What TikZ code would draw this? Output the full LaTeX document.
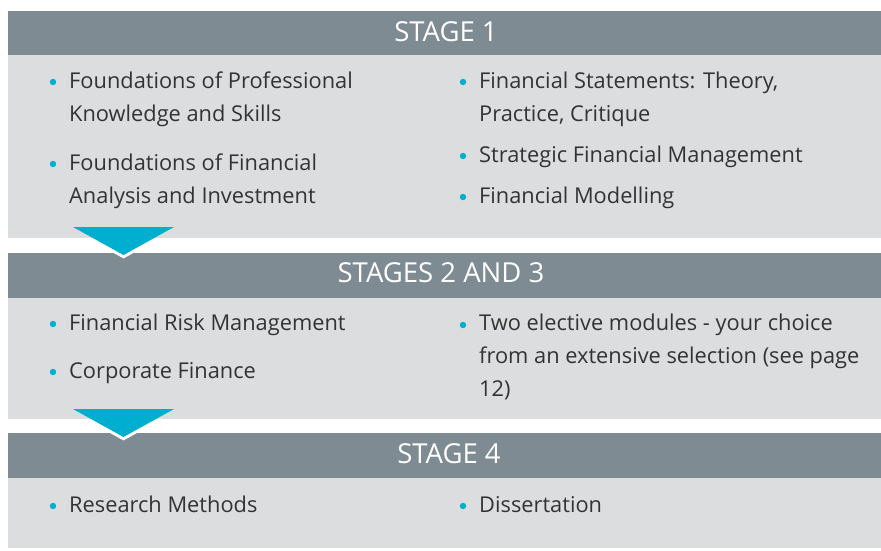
\documentclass[tikz,border=0pt]{standalone}
\usepackage{fontspec}
\setmainfont{Open Sans}
\definecolor{bandgrey}{HTML}{7F8B93}
\definecolor{panelgrey}{HTML}{DCDDDF}
\definecolor{cyanmark}{HTML}{00AECF}
\definecolor{textgrey}{HTML}{333333}
\begin{document}
\begin{tikzpicture}[x=1pt,y=-1pt,
	band/.style={fill=bandgrey},
	panel/.style={fill=panelgrey},
	title/.style={text=white,inner sep=0pt,font=\fontsize{27.5}{30}\selectfont},
	item/.style={anchor=base west,inner sep=0pt,align=left,text=textgrey,font=\fontsize{21.8}{33}\selectfont},
	dot/.style={fill=cyanmark},
	chevron/.style={fill=cyanmark}]
					%\draw[help lines] (0,0) grid[step=50] (881,550);
					\useasboundingbox (0,0) rectangle (881,550);
					
					%STAGE 1
					\fill[band] (8,11) rectangle (881,55);
					\fill[panel] (8,55) rectangle (881,238);
					\node[title] (stage1) at (446,32) {STAGE 1};
					%base = last line
					\node[item] (fpks) at (69,121) {Foundations of Professional\\Knowledge and Skills};
					\node[item] (ffai) at (69,203) {Foundations of Financial\\Analysis and Investment};
					\node[item] (fstp) at (479,121) {Financial Statements: Theory,\\Practice, Critique};
					\node[item] (sfm) at (479,162) {Strategic Financial Management};
					\node[item] (fmod) at (479,203) {Financial Modelling};
					\foreach \x/\y in {53/82,53/164,463/82,463/156,463/197}
						\fill[dot] (\x,\y) circle (3.2);
					
					%STAGES 2 AND 3
					\fill[band] (8,253) rectangle (881,298);
					\fill[panel] (8,298) rectangle (881,419);
					\node[title] (stage23) at (441,273) {STAGES 2 AND 3};
					\node[item] (frm) at (69,330) {Financial Risk Management};
					\node[item] (cfin) at (69,378) {Corporate Finance};
					\node[item] (elec) at (479,396) {Two elective modules - your choice\\from an extensive selection (see page\\12)};
					\foreach \x/\y in {53/324,53/372,463/325}
						\fill[dot] (\x,\y) circle (3.2);
					
					%STAGE 4
					\fill[band] (8,433) rectangle (881,478);
					\fill[panel] (8,478) rectangle (881,548);
					\node[title] (stage4) at (449,454) {STAGE 4};
					\node[item] (rmet) at (69,512) {Research Methods};
					\node[item] (diss) at (479,512) {Dissertation};
					\foreach \x/\y in {53/506,463/506}
						\fill[dot] (\x,\y) circle (3.2);
					
					%CHEVRONS
					\foreach \t/\c in {227/238,409/419}{
						\begin{scope}
							\clip (0,\c) rectangle (881,\c+40);
							\draw[white,line width=6pt,line join=miter] (73,\t) -- (123.5,\t+28) -- (174,\t);
						\end{scope}
						\fill[chevron] (73,\t) -- (174,\t) -- (123.5,\t+28) -- cycle;
					}
				  \end{tikzpicture}
\end{document}
